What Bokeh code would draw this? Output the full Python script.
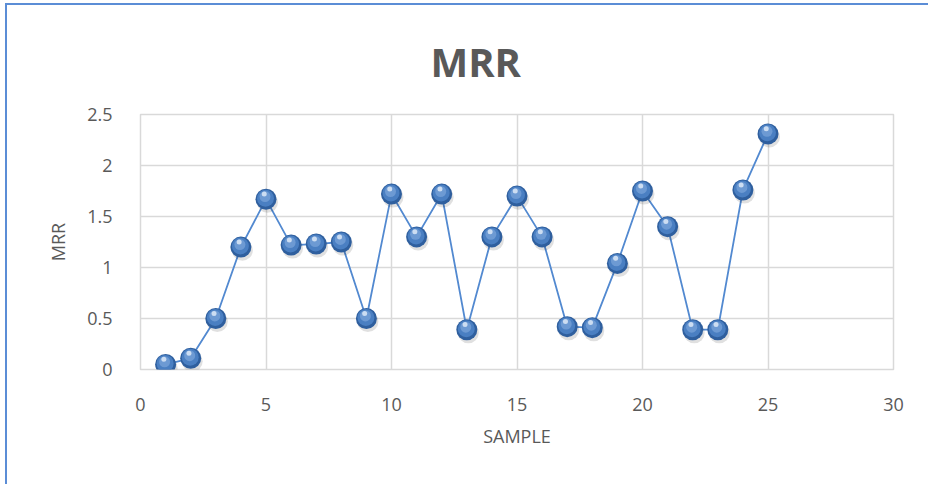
from bokeh.plotting import figure
from bokeh.models import ColumnDataSource, FixedTicker, Range1d
from bokeh.transform import dodge
from bokeh.embed import file_html
from bokeh.resources import INLINE

# MRR measured for each of the 25 samples
sample = list(range(1, 26))
mrr = [0.05, 0.11, 0.50, 1.20, 1.67, 1.22, 1.23, 1.25, 0.50, 1.72,
       1.30, 1.72, 0.39, 1.30, 1.70, 1.30, 0.42, 0.41, 1.04, 1.75,
       1.40, 0.39, 0.39, 1.76, 2.31]

x_ticks = [0, 5, 10, 15, 20, 25, 30]
y_ticks = [0, 0.5, 1, 1.5, 2, 2.5]

src = ColumnDataSource(dict(x=sample, y=mrr))

FONT = "Open Sans"
GRAY = "#595959"

p = figure(width=923, height=481, output_backend="svg", toolbar_location=None,
           x_range=Range1d(0, 30), y_range=Range1d(0, 2.5),
           min_border_left=133, min_border_right=37,
           min_border_top=108, min_border_bottom=117,
           title="MRR", x_axis_label="SAMPLE", y_axis_label="MRR",
           styles={"margin-left": "5px", "margin-top": "3px",
                   "border-left": "2px solid #5b8dd6",
                   "border-top": "2px solid #5b8dd6"})

# title sits centred over the whole chart area, not just the plot frame
p.title.align = "left"
p.title.offset = 290
p.title.text_font = FONT
p.title.text_font_size = "40px"
p.title.text_font_style = "bold"
p.title.text_color = GRAY
p.title.text_line_height = 0.8
p.title.standoff = 52

p.outline_line_color = "#d9d9d9"
p.outline_line_width = 1.5

for ax in (p.xaxis[0], p.yaxis[0]):
    ax.axis_line_color = None
    ax.major_tick_line_color = None
    ax.minor_tick_line_color = None
    ax.major_label_text_font = FONT
    ax.major_label_text_font_size = "18px"
    ax.major_label_text_color = GRAY
    ax.axis_label_text_font = FONT
    ax.axis_label_text_font_size = "18px"
    ax.axis_label_text_font_style = "normal"
    ax.axis_label_text_color = GRAY

p.xaxis.ticker = FixedTicker(ticks=x_ticks)
p.yaxis.ticker = FixedTicker(ticks=y_ticks)
p.yaxis.major_label_overrides = {0: "0", 0.5: "0.5", 1: "1", 1.5: "1.5", 2: "2", 2.5: "2.5"}
p.xaxis.major_label_standoff = 22
p.yaxis.major_label_standoff = 22
p.xaxis.axis_label_standoff = 10
p.yaxis.axis_label_standoff = 14

p.xgrid.grid_line_color = "#d9d9d9"
p.ygrid.grid_line_color = "#d9d9d9"
p.xgrid.grid_line_width = 1.5
p.ygrid.grid_line_width = 1.5

# connecting line
p.line("x", "y", source=src, line_color="#5289d0", line_width=1.8)

# soft shadow under each sphere
p.scatter(x=dodge("x", 0.06, range=p.x_range), y=dodge("y", -0.03, range=p.y_range),
          source=src, size=21, fill_color="#000000", fill_alpha=0.12, line_color=None)
# sphere body
p.scatter("x", "y", source=src, size=21, fill_color="#2f5f9e", line_color=None)
p.scatter(x=dodge("x", -0.02, range=p.x_range), y=dodge("y", 0.01, range=p.y_range),
          source=src, size=17, fill_color="#4a7fc2", line_color=None)
p.scatter(x=dodge("x", -0.04, range=p.x_range), y=dodge("y", 0.025, range=p.y_range),
          source=src, size=11, fill_color="#6d9ad3", line_color=None)
# highlight
p.scatter(x=dodge("x", -0.07, range=p.x_range), y=dodge("y", 0.05, range=p.y_range),
          source=src, size=5, fill_color="#d6e4f5", fill_alpha=0.9, line_color=None)

open("out.html", "w").write(file_html(p, INLINE))
